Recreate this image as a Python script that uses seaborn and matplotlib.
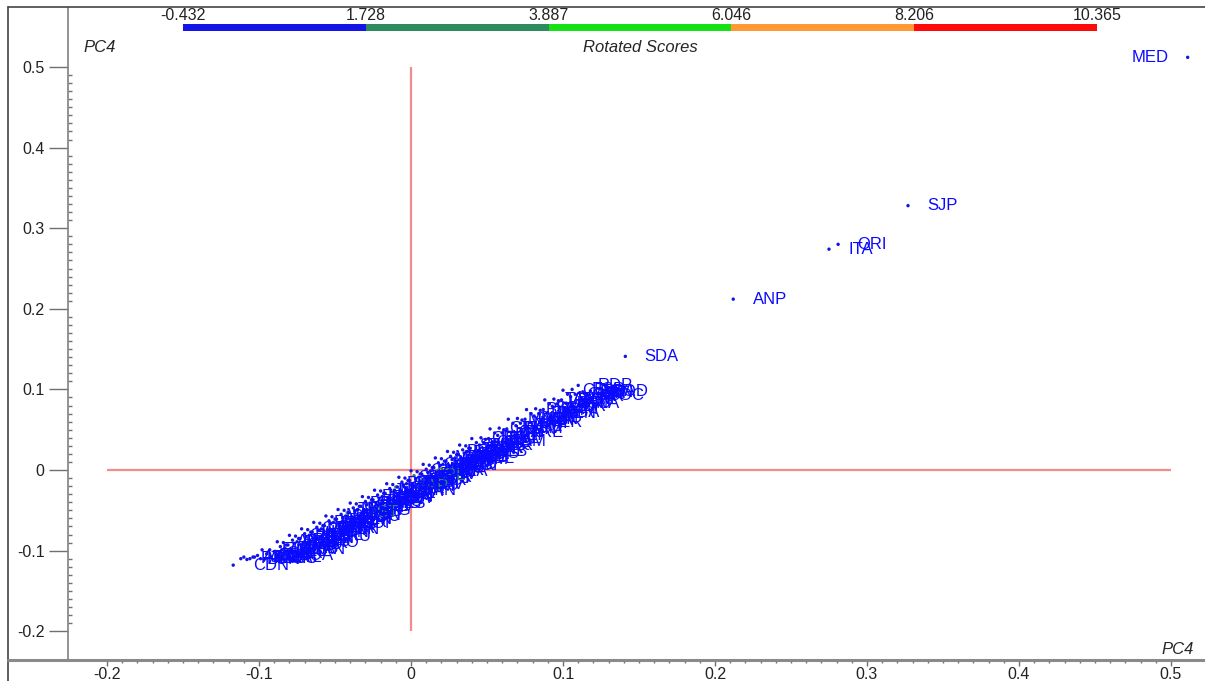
import numpy as np
import pandas as pd
import matplotlib
matplotlib.use("Agg")
import matplotlib.pyplot as plt
import matplotlib.lines as mlines
from matplotlib.colors import ListedColormap, BoundaryNorm
from matplotlib.ticker import FixedLocator, FuncFormatter
import seaborn as sns

# colour scale of the rotated scores
score_ticks = [-0.432, 1.728, 3.887, 6.046, 8.206, 10.365]
score_colors = ["#1414e6", "#2e8b60", "#16e016", "#ff9933", "#ff0a0a"]

# outlying municipalities (PC4 vs PC4)
out_names = ["MED", "SJP", "ORI", "ITA", "ANP", "SDA", "RDP", "CDN"]
out_x = [0.511, 0.327, 0.281, 0.275, 0.212, 0.141, 0.110, -0.117]
out_y = [0.512, 0.328, 0.280, 0.274, 0.212, 0.141, 0.105, -0.118]

# dense cloud along the diagonal (first group)
cloud_names = ["PTG", "LON", "MGA", "CSC", "FOZ", "GUA", "TOL", "APU", "ARA", "CMP",
               "PVI", "UMU", "CIA", "FBE", "PGO", "TBG", "CAM", "IVA", "PIN", "LAP",
               "RNE", "CLA", "IRA", "JAC", "MAL", "PAL", "PRU", "SMT", "TEL", "UVT",
               "WBR", "AST", "BDS", "CNT", "COR", "DOV", "ENG", "GRC", "IBP", "IPO",
               "JSV", "LAR", "MAR", "NOV", "PBR", "QBR", "RES", "SAP", "SJT", "TRB",
               "ALT", "BRC", "CAF", "CPL", "DSP", "FXI", "GOE", "IMB", "JAP", "LOB",
               "MRF", "NES", "ORT", "PDP", "PRT", "QUE", "RLD", "SAN", "STI", "TUN",
               "AMP", "BOR", "CBR", "CRZ", "DIA", "FLO", "GRA", "ICA", "JUR", "LUN",
               "MNS", "NAT", "OUR", "PAR", "PIR", "RIO", "SCZ", "SMI", "TAP", "UBR",
               "ANT", "BAR", "CEU", "CUR", "ESP", "FRA", "GOD"]
cloud_x = [-0.112, -0.108, -0.104, -0.101, -0.098, -0.095, -0.093, -0.090, -0.088, -0.086,
           -0.084, -0.082, -0.080, -0.078, -0.076, -0.074, -0.072, -0.070, -0.068, -0.066,
           -0.064, -0.062, -0.060, -0.058, -0.056, -0.054, -0.052, -0.050, -0.048, -0.046,
           -0.044, -0.042, -0.040, -0.038, -0.036, -0.034, -0.032, -0.030, -0.028, -0.026,
           -0.024, -0.022, -0.020, -0.018, -0.016, -0.014, -0.012, -0.010, -0.008, -0.006,
           -0.004, -0.002, 0.000, 0.002, 0.004, 0.006, 0.008, 0.010, 0.012, 0.014,
           0.016, 0.018, 0.020, 0.022, 0.024, 0.026, 0.028, 0.030, 0.032, 0.034,
           0.036, 0.038, 0.040, 0.043, 0.046, 0.049, 0.052, 0.055, 0.058, 0.061,
           0.064, 0.067, 0.070, 0.073, 0.076, 0.079, 0.082, 0.085, 0.088, 0.091,
           0.094, 0.097, 0.100, 0.103, 0.106, 0.113, 0.118]
cloud_y = [-0.110, -0.111, -0.108, -0.106, -0.099, -0.104, -0.099, -0.101, -0.089, -0.095,
           -0.090, -0.093, -0.081, -0.087, -0.082, -0.085, -0.073, -0.079, -0.074, -0.077,
           -0.065, -0.071, -0.066, -0.069, -0.057, -0.063, -0.058, -0.061, -0.049, -0.055,
           -0.050, -0.053, -0.041, -0.047, -0.042, -0.045, -0.033, -0.039, -0.034, -0.037,
           -0.025, -0.031, -0.026, -0.029, -0.017, -0.023, -0.018, -0.021, -0.009, -0.015,
           -0.010, -0.013, -0.001, -0.007, -0.002, -0.005, 0.007, 0.001, 0.006, 0.003,
           0.015, 0.009, 0.014, 0.011, 0.023, 0.017, 0.022, 0.019, 0.031, 0.025,
           0.030, 0.027, 0.039, 0.034, 0.040, 0.038, 0.051, 0.046, 0.052, 0.050,
           0.063, 0.058, 0.064, 0.062, 0.075, 0.070, 0.076, 0.074, 0.087, 0.082,
           0.088, 0.086, 0.099, 0.094, 0.100, 0.097, 0.098]

# dense cloud along the diagonal (second group, a little lower)
cloud2_names = ["ABT", "ALV", "AMR", "ARP", "ASS", "BAL", "BEL", "BOA", "BRA", "CAB",
                "CAL", "CAN", "CAR", "CAS", "CEN", "CHO", "CIR", "COL", "CON", "CRU",
                "DOI", "ENR", "FAX", "FEN", "FIG", "FOR", "GEN", "GOI", "GUI", "HON",
                "IBE", "IGU", "IND", "IPI", "IRE", "ITG", "IVT", "JAG", "JAN", "JES",
                "JOA", "JUN", "KAL", "LIN", "LOA", "LUP", "MAM", "MAN", "MAU", "MIR",
                "MOR", "NAV", "NOS", "NPR", "OUV", "PAI", "PAT", "PER", "PIA", "PLA",
                "POR", "PRD", "PRI", "QUI", "RAM", "REB", "RIB", "ROL", "ROS", "SAL",
                "SBR", "SEB", "SER", "SIQ", "SUL", "TAM", "TEI", "TIJ", "TOM", "TRE",
                "TUP", "UNI", "VEN", "VER", "VIT", "WEN", "XAM", "ABA", "ADR", "AGU",
                "ALM", "ANA", "ARR", "AZV", "BEN", "BIT", "BOC"]
cloud2_x = [-0.110, -0.106, -0.103, -0.099, -0.096, -0.092, -0.089, -0.087, -0.085, -0.083,
            -0.081, -0.079, -0.077, -0.075, -0.073, -0.071, -0.069, -0.067, -0.065, -0.063,
            -0.061, -0.059, -0.057, -0.055, -0.053, -0.051, -0.049, -0.047, -0.045, -0.043,
            -0.041, -0.039, -0.037, -0.035, -0.033, -0.031, -0.029, -0.027, -0.025, -0.023,
            -0.021, -0.019, -0.017, -0.015, -0.013, -0.011, -0.009, -0.007, -0.005, -0.003,
            -0.001, 0.001, 0.003, 0.005, 0.007, 0.009, 0.011, 0.013, 0.015, 0.017,
            0.019, 0.021, 0.023, 0.025, 0.027, 0.029, 0.031, 0.033, 0.035, 0.037,
            0.039, 0.042, 0.045, 0.048, 0.051, 0.054, 0.057, 0.060, 0.063, 0.066,
            0.069, 0.072, 0.075, 0.078, 0.081, 0.084, 0.087, 0.090, 0.093, 0.096,
            0.099, 0.102, 0.105, 0.108, 0.111, 0.114, 0.117]
cloud2_y = [-0.108, -0.110, -0.108, -0.110, -0.110, -0.108, -0.101, -0.106, -0.099, -0.097,
            -0.093, -0.098, -0.091, -0.089, -0.085, -0.090, -0.083, -0.081, -0.077, -0.082,
            -0.075, -0.073, -0.069, -0.074, -0.067, -0.065, -0.061, -0.066, -0.059, -0.057,
            -0.053, -0.058, -0.051, -0.049, -0.045, -0.050, -0.043, -0.041, -0.037, -0.042,
            -0.035, -0.033, -0.029, -0.034, -0.027, -0.025, -0.021, -0.026, -0.019, -0.017,
            -0.013, -0.018, -0.011, -0.009, -0.005, -0.010, -0.003, -0.001, 0.003, -0.002,
            0.005, 0.007, 0.011, 0.006, 0.013, 0.015, 0.019, 0.014, 0.021, 0.023,
            0.027, 0.023, 0.031, 0.034, 0.039, 0.035, 0.043, 0.046, 0.051, 0.047,
            0.055, 0.058, 0.063, 0.059, 0.067, 0.070, 0.075, 0.071, 0.079, 0.082,
            0.087, 0.083, 0.091, 0.094, 0.096, 0.095, 0.093]
green_names = ["SAP", "CPL", "AST"]

sns.set_style("ticks")
plt.rcParams["font.family"] = ["Liberation Sans", "DejaVu Sans"]
plt.rcParams["axes.unicode_minus"] = False

df = pd.DataFrame({
    "name": out_names + cloud_names + cloud2_names,
    "x": out_x + cloud_x + cloud2_x,
    "y": out_y + cloud_y + cloud2_y,
})
df["cls"] = np.where(df["name"].isin(green_names), 1, 0)

W, H = 1205, 681
fig = plt.figure(figsize=(W / 100, H / 100), dpi=100)
ax = fig.add_axes([68 / W, (H - 660) / H, (W - 68) / W, (660 - 8) / H])

ax.hlines(0, -0.2, 0.5, color="#f48a8a", lw=1.6, zorder=1)
ax.vlines(0, -0.2, 0.5, color="#f48a8a", lw=1.6, zorder=1)

sns.scatterplot(data=df, x="x", y="y", hue="cls",
                palette={0: score_colors[0], 1: score_colors[1]},
                s=6, linewidth=0, legend=False, ax=ax, zorder=3)

# cloud labels first, outliers on top so they stay readable
for _, r in df.iloc[::-1].iterrows():
    col = score_colors[r["cls"]] if r["cls"] else "#0a0aff"
    if r["name"] == "MED":
        ax.annotate(r["name"], (r["x"], r["y"]), xytext=(-14, 0),
                    textcoords="offset points", ha="right", va="center",
                    fontsize=12, color=col, zorder=4)
    else:
        ax.annotate(r["name"], (r["x"], r["y"]), xytext=(14, 0),
                    textcoords="offset points", ha="left", va="center",
                    fontsize=12, color=col, zorder=4)

ax.set_xlim(-0.2257, 0.5224)
ax.set_ylim(-0.2357, 0.5732)
ax.set_xlabel("")
ax.set_ylabel("")

fmt = FuncFormatter(lambda v, p: "0" if abs(v) < 1e-9 else f"{v:.1f}")
ax.xaxis.set_major_locator(FixedLocator(np.round(np.arange(-0.2, 0.51, 0.1), 2)))
ax.yaxis.set_major_locator(FixedLocator(np.round(np.arange(-0.2, 0.51, 0.1), 2)))
ax.xaxis.set_minor_locator(FixedLocator(np.round(np.arange(-0.2, 0.501, 0.01), 3)))
ax.yaxis.set_minor_locator(FixedLocator(np.round(np.arange(-0.2, 0.501, 0.01), 3)))
ax.xaxis.set_major_formatter(fmt)
ax.yaxis.set_major_formatter(fmt)

ax.tick_params(axis="y", which="major", direction="out", length=14, width=1,
               color="#707070", labelsize=11.5, pad=3, labelcolor="#222222")
ax.tick_params(axis="y", which="minor", direction="in", length=3, width=1, color="#707070")
ax.tick_params(axis="x", which="major", direction="out", length=4, width=1,
               color="#707070", labelsize=11.5, pad=1, labelcolor="#222222")
ax.tick_params(axis="x", which="minor", direction="out", length=2, width=1, color="#707070")

for s in ["top", "right"]:
    ax.spines[s].set_visible(False)
ax.spines["left"].set_color("#808080")
ax.spines["left"].set_linewidth(1.2)
ax.spines["bottom"].set_color("#8a8a8a")
ax.spines["bottom"].set_linewidth(2.2)

# outer frame
fig.add_artist(mlines.Line2D([8 / W, 8 / W], [0, 1 - 7 / H], transform=fig.transFigure,
                             color="#444444", lw=1.2))
fig.add_artist(mlines.Line2D([8 / W, 1], [1 - 7 / H, 1 - 7 / H], transform=fig.transFigure,
                             color="#444444", lw=1.2))
fig.add_artist(mlines.Line2D([8 / W, 68 / W], [(H - 660) / H] * 2, transform=fig.transFigure,
                             color="#8a8a8a", lw=2.2))

# colour bar
cax = fig.add_axes([183 / W, 1 - 31 / H, (1097 - 183) / W, 7 / H])
cmap = ListedColormap(score_colors)
norm = BoundaryNorm(score_ticks, cmap.N)
cb = fig.colorbar(plt.cm.ScalarMappable(norm=norm, cmap=cmap), cax=cax,
                  orientation="horizontal", ticks=score_ticks)
cb.outline.set_visible(False)
cax.xaxis.set_ticks_position("top")
cax.set_xticklabels([f"{t:.3f}" for t in score_ticks])
cax.tick_params(length=0, labelsize=11.5, pad=1, labelcolor="#222222")

fig.text(83 / W, 1 - 47 / H, "PC4", fontsize=12, style="italic", ha="left", va="center")
fig.text(640 / W, 1 - 48 / H, "Rotated Scores", fontsize=12, style="italic",
         ha="center", va="center")
fig.text(1194 / W, 1 - 650 / H, "PC4", fontsize=12, style="italic", ha="right", va="center")

fig.savefig("out.png", dpi=100)
